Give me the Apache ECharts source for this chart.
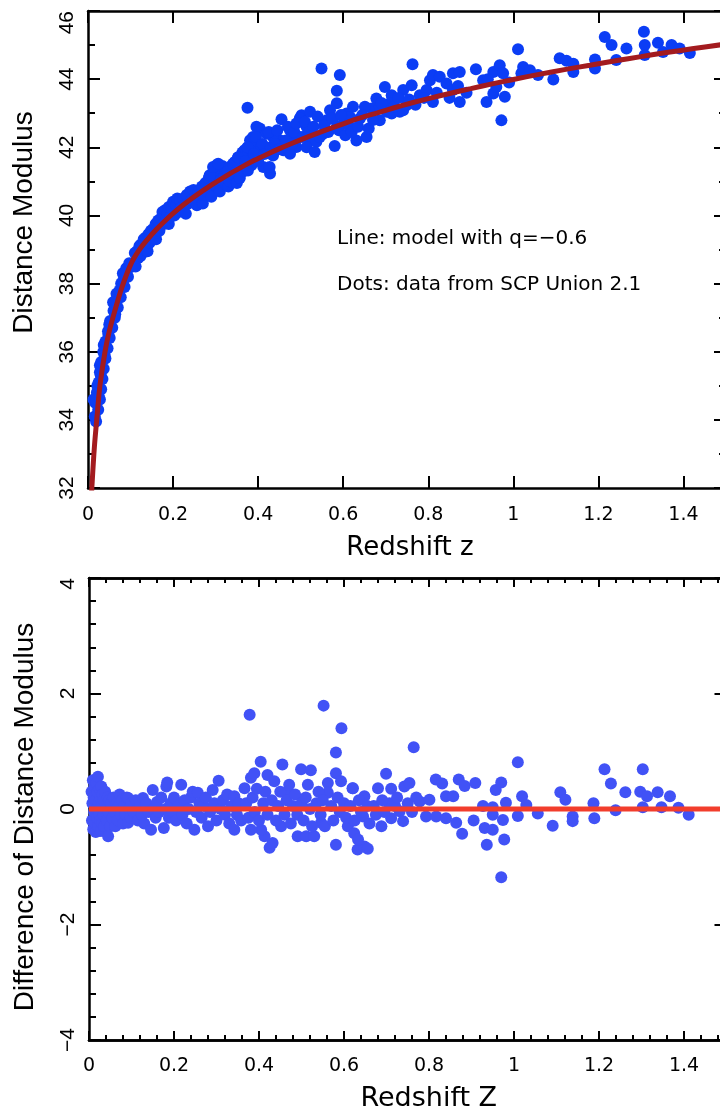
<!DOCTYPE html>
<html>
<head>
<meta charset="utf-8">
<title>Hubble diagram - SCP Union 2.1</title>
<script src="https://cdn.jsdelivr.net/npm/echarts@6/dist/echarts.min.js"></script>
<style>
  html, body { margin: 0; padding: 0; background: #fff; }
  #chart { width: 720px; height: 1111px; }
</style>
</head>
<body>
<div id="chart"></div>
<script>
// x tick labels (both panels) and y ticks
const zTicks = [0, 0.2, 0.4, 0.6, 0.8, 1, 1.2, 1.4];
const muTicks = [32, 34, 36, 38, 40, 42, 44, 46];
const diffTicks = [-4, -2, 0, 2, 4];

const modelCurve = [
  [0.0075, 31.6], [0.009, 32.0], [0.015, 33.2], [0.022, 34.2], [0.028, 35.0], [0.04, 36.0],
  [0.05, 36.6], [0.063, 37.2], [0.08, 37.9], [0.1, 38.55], [0.12, 38.98], [0.14, 39.3],
  [0.16, 39.58], [0.18, 39.83], [0.2, 40.06], [0.22, 40.27], [0.24, 40.46], [0.26, 40.64],
  [0.28, 40.81], [0.3, 40.97], [0.33, 41.2], [0.36, 41.41], [0.39, 41.61], [0.42, 41.79],
  [0.45, 41.96], [0.48, 42.12], [0.52, 42.32], [0.56, 42.51], [0.6, 42.69], [0.64, 42.86],
  [0.68, 43.01], [0.72, 43.16], [0.76, 43.3], [0.8, 43.43], [0.85, 43.58], [0.9, 43.72],
  [0.95, 43.86], [1.0, 43.99], [1.06, 44.14], [1.12, 44.28], [1.18, 44.41], [1.24, 44.54],
  [1.3, 44.66], [1.36, 44.78], [1.42, 44.89], [1.5, 45.03]
];

// upper panel dots: [z, distance modulus]
const hubbleDots = [
  // low z
  [0.019, 33.95], [0.016, 34.1], [0.024, 34.3], [0.017, 34.5], [0.028, 34.6], [0.021, 34.8],
  [0.025, 34.7], [0.031, 34.9], [0.022, 35.0], [0.025, 35.1], [0.034, 35.2], [0.030, 35.3],
  [0.028, 35.4], [0.037, 35.5], [0.028, 35.6], [0.031, 35.7], [0.041, 35.8], [0.039, 35.9],
  [0.036, 36.0], [0.046, 36.1], [0.037, 36.2], [0.041, 36.3], [0.051, 36.4], [0.048, 36.5],
  [0.047, 36.6], [0.057, 36.7], [0.050, 36.8], [0.052, 36.9], [0.063, 37.0], [0.064, 37.1],
  [0.060, 37.2], [0.070, 37.3], [0.062, 37.4], [0.066, 37.5], [0.077, 37.6], [0.067, 37.7],
  [0.074, 37.8], [0.086, 37.9], [0.078, 38.0], [0.083, 38.1], [0.094, 38.2], [0.091, 38.35],
  [0.090, 38.45], [0.104, 38.5], [0.097, 38.6], [0.082, 38.3], [0.059, 37.45], [0.013, 34.6],
  // 0.1 - 0.37
  [0.107, 38.6], [0.110, 38.9], [0.112, 38.5], [0.115, 38.95], [0.118, 38.75], [0.121, 39.1],
  [0.123, 38.8], [0.125, 39.15], [0.128, 38.9], [0.131, 39.3], [0.133, 39.0], [0.136, 39.35],
  [0.139, 39.1], [0.140, 38.95], [0.142, 39.45], [0.145, 39.2], [0.148, 39.55], [0.150, 39.3],
  [0.153, 39.6], [0.156, 39.4], [0.159, 39.75], [0.160, 39.3], [0.162, 39.5], [0.165, 39.85],
  [0.168, 39.55], [0.171, 39.9], [0.175, 40.1], [0.178, 39.75], [0.181, 40.15], [0.184, 39.9],
  [0.187, 40.05], [0.190, 40.25], [0.190, 39.75], [0.193, 39.95], [0.197, 40.2], [0.200, 40.4],
  [0.203, 40.0], [0.207, 40.3], [0.210, 40.5], [0.213, 40.1], [0.216, 40.45], [0.220, 40.25],
  [0.224, 40.5], [0.228, 40.3], [0.230, 40.05], [0.232, 40.6], [0.236, 40.35], [0.240, 40.7],
  [0.244, 40.45], [0.248, 40.75], [0.252, 40.5], [0.256, 40.3], [0.260, 40.7], [0.264, 40.55],
  [0.268, 40.85], [0.270, 40.35], [0.272, 40.6], [0.276, 40.95], [0.280, 40.7], [0.284, 41.1],
  [0.288, 40.8], [0.290, 40.55], [0.292, 41.2], [0.296, 40.9], [0.300, 41.3], [0.304, 41.0],
  [0.308, 41.4], [0.310, 40.7], [0.312, 41.05], [0.316, 41.45], [0.320, 41.15], [0.325, 40.9],
  [0.329, 41.3], [0.330, 40.85], [0.333, 41.0], [0.337, 41.45], [0.341, 41.2], [0.345, 41.55],
  [0.349, 41.3], [0.350, 40.95], [0.353, 41.7], [0.357, 41.1], [0.360, 41.5], [0.363, 41.85],
  [0.366, 41.3], [0.302, 41.47], [0.286, 41.18], [0.294, 41.42], [0.306, 41.52], [0.341, 41.52],
  // 0.37 - 0.67
  [0.549, 44.31], [0.592, 44.12], [0.585, 43.66], [0.585, 43.29], [0.375, 43.16], [0.455, 42.82],
  [0.502, 42.94], [0.522, 43.04], [0.569, 43.09], [0.623, 43.19], [0.580, 42.04], [0.631, 42.2],
  [0.404, 42.55], [0.388, 42.30], [0.428, 41.23], [0.412, 41.42], [0.686, 42.79], [0.655, 42.30],
  [0.667, 43.14], [0.639, 42.84], [0.608, 42.99], [0.585, 42.6], [0.561, 42.79], [0.553, 42.4],
  [0.498, 42.85], [0.514, 42.6], [0.522, 42.21], [0.498, 42.30], [0.475, 42.5], [0.451, 42.21],
  [0.475, 42.01], [0.435, 42.30], [0.42, 42.4], [0.381, 42.21], [0.381, 41.81], [0.388, 42.01],
  [0.435, 41.81], [0.459, 41.91], [0.49, 42.01], [0.537, 42.16], [0.616, 42.89], [0.6, 42.7],
  [0.651, 43.19], [0.368, 41.91], [0.345, 41.57], [0.384, 41.47], [0.396, 42.6], [0.482, 42.3],
  [0.514, 42.0], [0.533, 41.86], [0.475, 41.81], [0.392, 42.21], [0.407, 42.01], [0.427, 41.42],
  [0.435, 41.76], [0.454, 41.96], [0.392, 41.71], [0.376, 41.32], [0.353, 41.71],
  [0.37, 41.6], [0.375, 42.0], [0.39, 41.8], [0.395, 42.3], [0.40, 41.6], [0.41, 42.1],
  [0.415, 41.8], [0.425, 42.45], [0.43, 42.0], [0.44, 42.1], [0.445, 42.5], [0.45, 41.95],
  [0.465, 42.2], [0.47, 42.6], [0.48, 42.1], [0.485, 42.45], [0.49, 42.7], [0.505, 42.3],
  [0.51, 42.75], [0.52, 42.45], [0.53, 42.6], [0.54, 42.9], [0.545, 42.3], [0.555, 42.65],
  [0.565, 42.45], [0.575, 42.85], [0.59, 42.5], [0.595, 42.95], [0.605, 42.35], [0.615, 42.6],
  [0.62, 42.45], [0.635, 42.6], [0.645, 42.95], [0.66, 42.55], [0.67, 42.8],
  // 0.67 - 1.05
  [0.678, 43.43], [0.698, 43.77], [0.702, 43.04], [0.714, 43.53], [0.714, 42.99], [0.686, 43.19],
  [0.71, 43.29], [0.733, 43.04], [0.741, 43.68], [0.741, 43.09], [0.749, 43.24], [0.761, 43.82],
  [0.763, 44.44], [0.78, 43.53], [0.796, 43.68], [0.804, 43.97], [0.811, 44.12], [0.811, 43.33],
  [0.827, 44.07], [0.843, 43.87], [0.858, 43.68], [0.858, 44.17], [0.874, 44.21], [0.874, 43.33],
  [0.912, 44.29], [0.929, 43.97], [0.937, 43.33], [0.953, 43.58], [0.953, 44.21], [0.96, 43.77],
  [0.968, 44.41], [0.972, 42.79], [0.976, 44.17], [0.98, 43.48], [1.011, 44.88], [1.019, 44.17],
  [1.023, 44.36], [1.039, 44.26], [0.69, 43.3], [0.72, 43.2], [0.73, 43.45], [0.755, 43.4],
  [0.77, 43.25], [0.79, 43.45], [0.82, 43.6], [0.85, 43.45], [0.87, 43.8], [0.89, 43.6],
  [0.94, 44.0], [0.99, 43.9],
  // high z
  [1.058, 44.12], [1.094, 43.99], [1.109, 44.61], [1.125, 44.54], [1.141, 44.21], [1.141, 44.45],
  [1.192, 44.58], [1.192, 44.31], [1.215, 45.24], [1.231, 45.0], [1.242, 44.56], [1.266, 44.90],
  [1.307, 45.39], [1.309, 45.0], [1.309, 44.71], [1.34, 45.07], [1.352, 44.8], [1.372, 45.0],
  [1.391, 44.9], [1.415, 44.77]
];

// lower panel dots: [z, difference of distance modulus]
const residualDots = [
  // low z
  [0.006, 0.3], [0.007, -0.2], [0.008, 0.1], [0.009, 0.5], [0.010, -0.35], [0.011, 0.2],
  [0.012, -0.05], [0.013, 0.4], [0.014, -0.25], [0.015, 0.15], [0.016, -0.4], [0.017, 0.45],
  [0.018, 0.0], [0.019, -0.15], [0.020, 0.3], [0.021, 0.56], [0.022, -0.3], [0.023, 0.1],
  [0.024, -0.1], [0.025, 0.35], [0.026, -0.2], [0.027, 0.2], [0.028, -0.38], [0.029, 0.39],
  [0.030, 0.05], [0.031, -0.25], [0.032, 0.25], [0.034, -0.1], [0.035, 0.15], [0.036, -0.3],
  [0.038, 0.3], [0.040, 0.0], [0.042, -0.2], [0.044, 0.2], [0.045, -0.47], [0.046, -0.05],
  [0.048, 0.15], [0.050, -0.3], [0.052, 0.1], [0.055, -0.15], [0.058, 0.2], [0.060, -0.05],
  [0.062, -0.3], [0.065, 0.1], [0.068, -0.2], [0.070, 0.05], [0.072, 0.25], [0.075, -0.1],
  [0.078, 0.15], [0.080, -0.25], [0.083, 0.05], [0.086, -0.1], [0.089, 0.2], [0.092, 0.19],
  [0.092, -0.24], [0.095, 0.0], [0.098, -0.15], [0.100, 0.1],
  // 0.1 - 0.37
  [0.105, -0.05], [0.11, 0.15], [0.115, -0.2], [0.12, 0.05], [0.125, -0.1], [0.127, 0.19],
  [0.13, -0.25], [0.135, 0.1], [0.14, -0.05], [0.146, -0.36], [0.15, 0.33], [0.152, 0.0],
  [0.157, -0.15], [0.16, 0.12], [0.165, -0.05], [0.17, 0.2], [0.176, -0.33], [0.18, 0.0],
  [0.182, 0.39], [0.184, 0.46], [0.188, -0.15], [0.192, 0.1], [0.197, -0.05], [0.2, 0.2],
  [0.205, -0.2], [0.21, 0.05], [0.217, 0.42], [0.22, -0.1], [0.225, 0.15], [0.23, -0.25],
  [0.235, 0.0], [0.24, 0.2], [0.244, 0.3], [0.248, -0.36], [0.252, -0.05], [0.256, 0.28],
  [0.26, 0.1], [0.265, -0.15], [0.27, 0.05], [0.275, 0.2], [0.28, -0.3], [0.285, -0.05],
  [0.291, 0.33], [0.295, 0.1], [0.3, -0.2], [0.305, 0.49], [0.31, 0.0], [0.315, 0.15],
  [0.32, -0.1], [0.325, 0.25], [0.33, -0.25], [0.335, 0.05], [0.342, 0.22], [0.342, -0.36],
  [0.348, -0.1], [0.352, 0.1], [0.358, -0.2], [0.366, 0.36],
  // 0.37 - 0.66
  [0.378, 1.63], [0.552, 1.79], [0.594, 1.40], [0.581, 0.98], [0.404, 0.82], [0.455, 0.77],
  [0.499, 0.69], [0.522, 0.67], [0.581, 0.62], [0.593, 0.48], [0.562, 0.45], [0.562, 0.28],
  [0.62, 0.36], [0.648, 0.22], [0.425, -0.67], [0.432, -0.59], [0.491, -0.47], [0.511, -0.47],
  [0.530, -0.47], [0.581, -0.62], [0.632, -0.70], [0.648, -0.65], [0.413, -0.47], [0.405, -0.36],
  [0.381, 0.54], [0.389, 0.62], [0.42, 0.59], [0.436, 0.48], [0.471, 0.42], [0.515, 0.42],
  [0.468, 0.30], [0.381, -0.36], [0.452, -0.30], [0.546, -0.24], [0.609, -0.30], [0.624, -0.42],
  [0.633, -0.53], [0.656, -0.69], [0.621, 0.36], [0.645, -0.13],
  [0.37, 0.1], [0.375, -0.15], [0.385, 0.2], [0.39, -0.05], [0.395, 0.35], [0.40, -0.2],
  [0.41, 0.1], [0.415, 0.3], [0.42, -0.1], [0.43, 0.15], [0.44, -0.2], [0.445, 0.05],
  [0.45, 0.3], [0.46, -0.1], [0.465, 0.15], [0.475, -0.25], [0.48, 0.05], [0.485, 0.25],
  [0.49, -0.1], [0.50, 0.1], [0.505, -0.2], [0.51, 0.2], [0.52, 0.0], [0.525, -0.3],
  [0.535, 0.1], [0.54, 0.3], [0.545, -0.1], [0.55, 0.15], [0.555, -0.3], [0.57, 0.05],
  [0.575, -0.2], [0.585, 0.2], [0.59, -0.05], [0.60, 0.1], [0.605, -0.15], [0.615, 0.05],
  [0.625, -0.2], [0.635, 0.15], [0.64, -0.05], [0.655, 0.05], [0.66, -0.25],
  // 0.66 - 1.42
  [0.680, 0.36], [0.688, -0.30], [0.699, 0.61], [0.707, 0.10], [0.711, 0.35], [0.711, -0.16],
  [0.731, -0.04], [0.739, -0.21], [0.742, 0.39], [0.754, 0.45], [0.764, 1.07], [0.778, 0.13],
  [0.793, -0.13], [0.801, 0.16], [0.816, 0.51], [0.817, -0.13], [0.831, 0.44], [0.840, 0.22],
  [0.840, -0.16], [0.857, 0.22], [0.864, -0.24], [0.870, 0.51], [0.878, -0.43], [0.884, 0.40],
  [0.905, -0.20], [0.909, 0.45], [0.927, 0.05], [0.931, -0.33], [0.936, -0.62], [0.950, 0.03],
  [0.950, -0.10], [0.950, -0.36], [0.957, 0.33], [0.970, 0.46], [0.970, -1.18], [0.974, -0.19],
  [0.977, -0.53], [0.981, 0.11], [1.009, 0.81], [1.009, -0.12], [1.019, 0.22], [1.029, 0.07],
  [1.056, -0.08], [1.091, -0.29], [1.109, 0.29], [1.121, 0.16], [1.138, -0.13], [1.138, -0.21],
  [1.187, 0.10], [1.189, -0.16], [1.213, 0.69], [1.228, 0.44], [1.239, -0.02], [1.262, 0.29],
  [1.297, 0.30], [1.303, 0.69], [1.303, 0.03], [1.313, 0.22], [1.338, 0.29], [1.347, 0.03],
  [1.367, 0.22], [1.387, 0.02], [1.411, -0.10],
  [0.67, 0.05], [0.675, -0.1], [0.69, 0.15], [0.695, -0.05], [0.72, 0.05], [0.725, 0.2],
  [0.75, 0.1], [0.76, -0.05], [0.77, 0.2]
];

// zero line of the lower panel
const zeroLine = [[0, 0], [1.5, 0]];

const black = '#000';
// onZero off: otherwise the right y axis jumps to x = 0
const axisLine = { onZero: false, lineStyle: { color: black, width: 2.5 } };
const tickFont = { fontFamily: 'DejaVu Sans', fontSize: 19, color: black };
const yTickFont = { fontFamily: 'Liberation Sans', fontSize: 21, color: black };
const minus = (v) => (v < 0 ? '\u2212' + Math.abs(v) : String(v));

// ticks point into the plot
function ticks(len) {
  return { inside: true, length: len, lineStyle: { color: black, width: 2 } };
}
function minorTicks(split, len) {
  return { show: true, splitNumber: split, length: len, lineStyle: { color: black, width: 2 } };
}

// one x axis; labels only when asked
function zAxis(grid, position, interval, tickLen, labels) {
  return {
    gridIndex: grid, type: 'value', position: position,
    min: 0, max: 1.5, interval: interval,
    axisLine: axisLine,
    axisTick: ticks(tickLen),
    axisLabel: labels ? Object.assign({ showMaxLabel: false }, labels) : { show: false },
    splitLine: { show: false }
  };
}

const chart = echarts.init(document.getElementById('chart'), null, { renderer: 'canvas' });

const xAxes = [
  // upper panel
  Object.assign(zAxis(0, 'bottom', 0.2, 12, Object.assign({ margin: 18 }, tickFont)), {
    name: 'Redshift z', nameLocation: 'middle', nameGap: 47,
    nameTextStyle: { fontFamily: 'DejaVu Sans', fontSize: 26, color: black, padding: [0, 0, 0, 6] }
  }),
  zAxis(0, 'top', 0.2, 12, null),
  // lower panel, major + minor ticks
  Object.assign(zAxis(1, 'bottom', 0.2, 9, Object.assign({ margin: 17 }, tickFont)), {
    name: 'Redshift Z', nameLocation: 'middle', nameGap: 45,
    nameTextStyle: { fontFamily: 'DejaVu Sans', fontSize: 27, color: black, padding: [0, 0, 0, 42] }
  }),
  zAxis(1, 'bottom', 0.04, 5, null),
  zAxis(1, 'top', 0.2, 9, null),
  zAxis(1, 'top', 0.04, 5, null)
];

const yAxes = [
  {
    gridIndex: 0, type: 'value', position: 'left',
    min: muTicks[0], max: muTicks[muTicks.length - 1], interval: 2,
    axisLine: axisLine,
    axisTick: ticks(12),
    minorTick: minorTicks(2, 7),
    axisLabel: Object.assign({ rotate: 90, margin: 10, alignMaxLabel: 'right' }, yTickFont),
    splitLine: { show: false },
    name: 'Distance Modulus', nameLocation: 'middle', nameGap: 50,
    nameTextStyle: { fontFamily: 'Liberation Sans', fontSize: 28, color: black, padding: [0, 0, 0, 54] }
  },
  {
    gridIndex: 0, type: 'value', position: 'right',
    min: muTicks[0], max: muTicks[muTicks.length - 1], interval: 2,
    axisLine: axisLine,
    axisTick: ticks(12),
    minorTick: minorTicks(2, 7),
    axisLabel: { show: false }, splitLine: { show: false }
  },
  {
    gridIndex: 1, type: 'value', position: 'left',
    min: diffTicks[0], max: diffTicks[diffTicks.length - 1], interval: 2,
    axisLine: axisLine,
    axisTick: ticks(12),
    minorTick: minorTicks(5, 7),
    axisLabel: Object.assign({ rotate: 90, margin: 10, alignMaxLabel: 'right', formatter: minus }, yTickFont),
    splitLine: { show: false },
    name: 'Difference of Distance Modulus', nameLocation: 'middle', nameGap: 50,
    nameTextStyle: { fontFamily: 'Liberation Sans', fontSize: 28, color: black, padding: [0, 16, 0, 0] }
  },
  {
    gridIndex: 1, type: 'value', position: 'right',
    min: diffTicks[0], max: diffTicks[diffTicks.length - 1], interval: 2,
    axisLine: axisLine,
    axisTick: ticks(12),
    minorTick: minorTicks(5, 5),
    axisLabel: { show: false }, splitLine: { show: false }
  }
];

chart.setOption({
  animation: false,
  backgroundColor: '#fff',
  // the plots run a few pixels past the right edge of the picture
  grid: [
    { left: 88, top: 11, right: -6, height: 477, outerBoundsMode: 'none' },
    { left: 89, top: 578, right: -6.5, height: 462, outerBoundsMode: 'none' }
  ],
  xAxis: xAxes,
  yAxis: yAxes,
  graphic: [
    { type: 'text', left: 337, top: 229, style: { text: 'Line: model with q=\u22120.6', font: '20px "DejaVu Sans"', fill: black } },
    { type: 'text', left: 337, top: 275, style: { text: 'Dots: data from SCP Union 2.1', font: '20px "DejaVu Sans"', fill: black } }
  ],
  series: [
    {
      type: 'scatter', xAxisIndex: 0, yAxisIndex: 0, data: hubbleDots,
      symbolSize: 12, itemStyle: { color: '#0b3df5', opacity: 1 }, z: 2
    },
    {
      type: 'line', xAxisIndex: 0, yAxisIndex: 0, data: modelCurve,
      smooth: 0.3, showSymbol: false, symbol: 'none',
      lineStyle: { color: '#a31b1f', width: 5 }, z: 3
    },
    {
      type: 'scatter', xAxisIndex: 2, yAxisIndex: 2, data: residualDots,
      symbolSize: 12, itemStyle: { color: '#4152f6', opacity: 1 }, z: 2
    },
    {
      type: 'line', xAxisIndex: 2, yAxisIndex: 2, data: zeroLine,
      showSymbol: false, symbol: 'none',
      lineStyle: { color: '#f23d2c', width: 5 }, z: 3
    }
  ]
});
</script>
</body>
</html>
